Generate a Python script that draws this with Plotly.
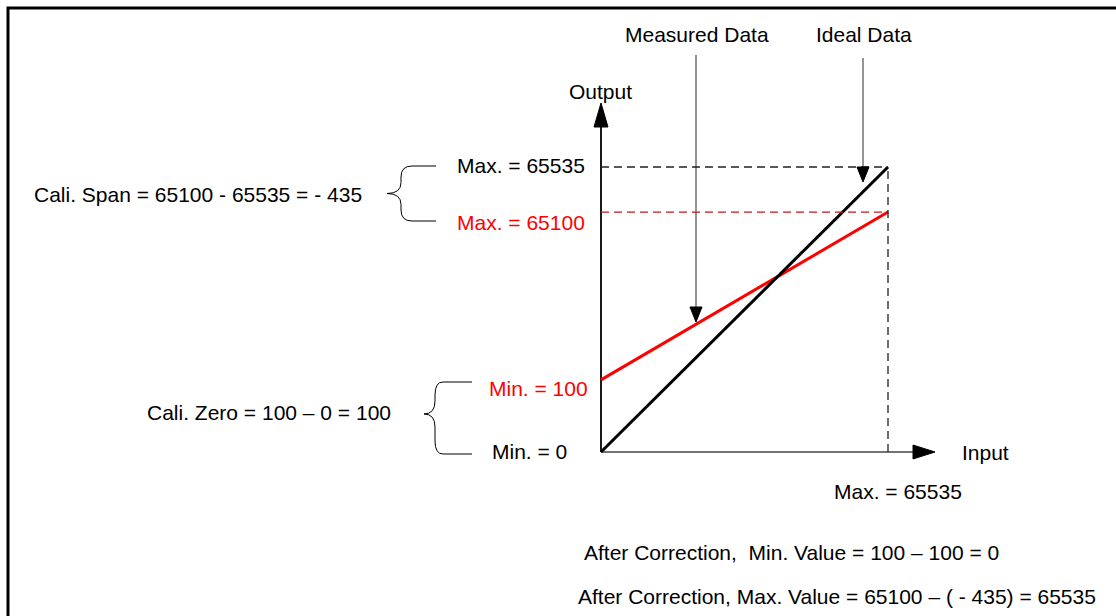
import plotly.graph_objects as go

# ---- schematic data (diagram units: 0 = origin, 1 = full scale) ----
input_pts = [0, 1]            # Input: 0 .. 65535
ideal_output = [0, 1]         # Ideal data: 0 .. 65535
measured_output = [0.253, 0.842]  # Measured data: 100 .. 65100 (exaggerated in the sketch)
ideal_max_level = [1, 1]
measured_max_level = [0.842, 0.842]
input_max_x = [1, 1]
input_max_y = [0, 1]

FONT = "Liberation Sans, Arial, sans-serif"
FS = 21
RED = "#FF0000"

W, H = 1116, 616
OX, OY = 601, 452     # origin in pixels
SX, SY = 287, 285     # pixels per diagram unit


def dx(px):
    return (px - OX) / SX


def dy(py):
    return (OY - py) / SY


fig = go.Figure()

# measured (red) and ideal (black) lines
fig.add_trace(go.Scatter(x=input_pts, y=measured_output, mode="lines",
                         line=dict(color=RED, width=3), hoverinfo="skip"))
fig.add_trace(go.Scatter(x=input_pts, y=ideal_output, mode="lines",
                         line=dict(color="black", width=3), hoverinfo="skip"))
# reference dashed lines
fig.add_trace(go.Scatter(x=input_pts, y=ideal_max_level, mode="lines",
                         line=dict(color="#222222", width=1.3, dash="8px,5px"), hoverinfo="skip"))
fig.add_trace(go.Scatter(x=input_pts, y=measured_max_level, mode="lines",
                         line=dict(color="#C01818", width=1.3, dash="8px,5px"), hoverinfo="skip"))
fig.add_trace(go.Scatter(x=input_max_x, y=input_max_y, mode="lines",
                         line=dict(color="#222222", width=1.3, dash="8px,5px"), hoverinfo="skip"))

shapes = []


def line(x0, y0, x1, y1, color, width):
    shapes.append(dict(type="line", xref="x", yref="y", x0=dx(x0), y0=dy(y0),
                       x1=dx(x1), y1=dy(y1), line=dict(color=color, width=width), layer="below"))


def tri(pts, color="black"):
    p = "M " + " L ".join(f"{dx(a)},{dy(b)}" for a, b in pts) + " Z"
    shapes.append(dict(type="path", xref="x", yref="y", path=p, fillcolor=color,
                       line=dict(color=color, width=1)))


def brace(x_arm_end, x_arm_start, xv, xt, y0, y1, ym, r):
    P = lambda a, b: f"{dx(a)},{dy(b)}"
    p = (f"M {P(x_arm_end, y0)} L {P(x_arm_start, y0)} Q {P(xv, y0)} {P(xv, y0 + r)} "
         f"L {P(xv, ym - r)} Q {P(xv, ym)} {P(xt, ym)} Q {P(xv, ym)} {P(xv, ym + r)} "
         f"L {P(xv, y1 - r)} Q {P(xv, y1)} {P(x_arm_start, y1)} L {P(x_arm_end, y1)}")
    shapes.append(dict(type="path", xref="x", yref="y", path=p,
                       line=dict(color="black", width=1)))


# border
shapes.append(dict(type="rect", xref="x", yref="y", x0=dx(8), y0=dy(8), x1=dx(1140), y1=dy(640),
                   line=dict(color="black", width=3)))
# axes
line(601, 452, 601, 125, "black", 1.8)
tri([(601, 103), (594, 127), (608, 127)])
line(601, 452, 914, 452, "#444444", 1.5)
tri([(935, 452), (913, 445), (913, 459)])
# pointer arrows
line(696, 55, 696, 308, "#7a7a7a", 1.6)
tri([(696, 322), (690, 307), (702, 307)])
line(863, 58, 863, 168, "#7a7a7a", 1.6)
tri([(863, 182), (857, 167), (869, 167)])
# braces
brace(436, 412, 401, 387, 166, 221, 193.5, 11)
brace(472, 443, 435, 424, 382, 454, 414, 13)

ann = []


def text(s, px, py, color="black", xanchor="center"):
    ann.append(dict(text=s, x=dx(px), y=dy(py), xref="x", yref="y", showarrow=False,
                    xanchor=xanchor, yanchor="middle",
                    font=dict(family=FONT, size=FS, color=color)))


text("Measured Data", 697, 34)
text("Ideal Data", 864, 34)
text("Output", 600, 91)
text("Input", 960, 452, xanchor="left")
text("Max. = 65535", 898, 491)
text("Max. = 65535", 587, 165, xanchor="right")
text("Max. = 65100", 587, 222, RED, xanchor="right")
text("Min. = 100", 590, 388, RED, xanchor="right")
text("Min. = 0", 569, 451, xanchor="right")
text("Cali. Span = 65100 - 65535 = - 435", 32, 194, xanchor="left")
text("Cali. Zero = 100 \u2013 0 = 100", 145, 412, xanchor="left")
text("After Correction,  Min. Value = 100 \u2013 100 = 0", 582, 552, xanchor="left")
text("After Correction, Max. Value = 65100 \u2013 ( - 435) = 65535", 576, 596, xanchor="left")

fig.update_layout(
    width=W, height=H, margin=dict(l=0, r=0, t=0, b=0),
    paper_bgcolor="white", plot_bgcolor="white", showlegend=False,
    xaxis=dict(range=[dx(0), dx(W)], visible=False, fixedrange=True),
    yaxis=dict(range=[dy(H), dy(0)], visible=False, fixedrange=True),
    shapes=shapes, annotations=ann,
)

fig.write_html("out.html", config={"displayModeBar": False},
               post_script="document.body.style.margin='0';document.body.style.overflow='hidden';")
